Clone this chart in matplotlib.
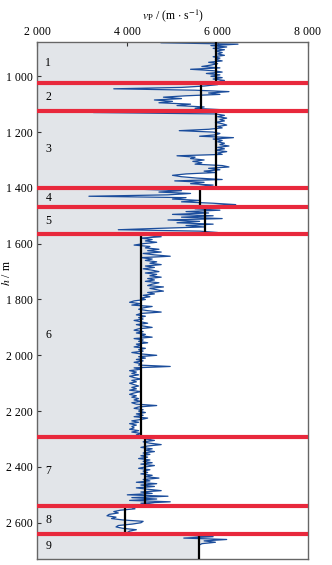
import numpy as np
import matplotlib
matplotlib.use('Agg')
import matplotlib.pyplot as plt
from matplotlib.ticker import FuncFormatter

plt.rcParams['font.family'] = ['Liberation Serif', 'DejaVu Serif']
plt.rcParams['mathtext.fontset'] = 'stix'

# layer boundaries (m) and mean P-wave velocity of each layer (m/s)
boundaries = [1024, 1123, 1400, 1470, 1564, 2292, 2539, 2640]
layer_names = ['1', '2', '3', '4', '5', '6', '7', '8', '9']
layer_mean = [5970, 5630, 5960, 5610, 5720, 4300, 4390, 3950, 5590]

# log samples every 5 m, from 880 m down to 2730 m
depth_top, depth_bottom, depth_step = 880, 2730, 5
vp_layer1 = [4750, 6450, 5850, 6200, 5900, 6150, 5950, 6100, 6000, 6150,
             5900, 6050, 5950, 6100, 5800, 6000, 5850, 5650, 6050, 5400,
             5900, 6100, 5750, 6050, 5850, 6100, 5900, 6150, 6000]
vp_layer2 = [5900, 6000, 5700, 5200, 3700, 5500, 6250, 5800, 6050, 5300,
             4800, 5200, 4600, 5000, 4700, 5400, 5100, 5700, 5500, 6100]
vp_layer3 = [5200, 3250, 5950, 6150, 6000, 6200, 6050, 6150, 5950, 6100,
             6200, 6000, 6100, 5800, 5150, 5900, 6050, 5950, 5600, 6350,
             5900, 6100, 6000, 6150, 6050, 6250, 6000, 6150, 5950, 6200,
             6000, 6100, 5100, 5500, 5400, 5700, 5450, 5650, 5500, 6100,
             6250, 5800, 6050, 5700, 5950, 5300, 5000, 5200, 5550, 6100,
             5050, 5700, 5400, 5900, 5600]
vp_layer4 = [5800, 4300, 5200, 4700, 5400, 4900, 3150, 5300, 5000, 5600,
             5200, 5900, 6400, 5700]
vp_layer5 = [5900, 5500, 6050, 5300, 5800, 5000, 5900, 5200, 6100, 4900,
             5600, 5100, 5900, 5300, 5700, 4700, 3800, 5600, 6000]
vp_layer6 = [4700, 4450, 4750, 4300, 4550, 4400, 4650, 4350, 4150, 4500,
             4400, 4700, 4450, 4750, 4350, 4600, 4950, 4300, 4550, 4400,
             4650, 4500, 4750, 4400, 4600, 4350, 4550, 4700, 4400, 4650,
             4500, 4750, 4450, 4600, 4400, 4700, 4550, 4450, 4800, 4500,
             4650, 4800, 4450, 4600, 4350, 4500, 4300, 4400, 4150, 4050,
             4300, 4100, 4550, 4350, 4250, 4450, 4750, 4300, 4200, 4400,
             4250, 4350, 4150, 4300, 4450, 4200, 4350, 4550, 4250, 4150,
             4350, 4200, 4400, 4300, 4550, 4150, 4350, 4250, 4450, 4200,
             4300, 4150, 4400, 4250, 4350, 4100, 4300, 4650, 4250, 4400,
             4200, 4350, 4150, 4300, 4250, 4950, 4150, 4300, 4050, 4200,
             4100, 4250, 4050, 4150, 4300, 4100, 4200, 4050, 4150, 4250,
             4100, 4200, 4050, 4300, 4150, 4050, 4200, 4100, 4250, 4150,
             4300, 4100, 4200, 4650, 4250, 4150, 4350, 4250, 4400, 4200,
             4350, 4150, 4450, 4300, 4100, 4250, 4050, 4200, 4100, 4150,
             4050, 4250, 4100, 4300, 4200, 4350]
vp_layer7 = [4750, 4400, 4600, 4350, 4500, 4750, 4450, 4300, 4550, 4400,
             4600, 4350, 4500, 4300, 4450, 4250, 4500, 4350, 4550, 4300,
             4600, 4400, 4250, 4500, 4350, 4450, 4300, 4550, 4400, 4700,
             4350, 4500, 4200, 4650, 4300, 4600, 4200, 4450, 4750, 4300,
             4550, 4000, 4900, 4100, 4650, 4050, 4950, 4300, 4600]
vp_layer8 = [4000, 4100, 4170, 3850, 3700, 3800, 3600, 3550, 3750, 3650,
             3900, 4350, 4300, 4100, 3800, 3750, 3900, 4200, 4050, 4000]
vp_layer9 = [5500, 5300, 5900, 5250, 6200, 5700, 5950, 5650, 5590, 5590,
             5590, 5590, 5590, 5590, 5590, 5590, 5590, 5590, 5590]

vp = np.array(vp_layer1 + vp_layer2 + vp_layer3 + vp_layer4 + vp_layer5
              + vp_layer6 + vp_layer7 + vp_layer8 + vp_layer9, dtype=float)
depth = np.arange(depth_top, depth_bottom + 1, depth_step)

fig = plt.figure(figsize=(3.32, 5.65), dpi=100)
ax = fig.add_axes([0.1114, 0.0106, 0.8163, 0.9142])

y_top, y_bottom = 879, 2730
x_min, x_max = 2000, 8000

# grey area between the left edge and the log
ax.fill_betweenx(depth, x_min, vp, color='#e2e5e9', lw=0, zorder=1)
ax.plot(vp, depth, color='#1b4d9c', lw=0.9, zorder=2)

# mean velocity of each layer
edges = [y_top] + boundaries + [y_bottom]
for i, v in enumerate(layer_mean):
    ax.plot([v, v], [edges[i], edges[i + 1]], color='black', lw=1.6, zorder=3)
    ax.text(2250, (edges[i] + edges[i + 1]) / 2, layer_names[i],
            fontsize=8.5, ha='center', va='center', zorder=5)

# layer boundaries
for b in boundaries:
    ax.axhline(b, color='#e8283c', lw=3, zorder=4)

ax.set_xlim(x_min, x_max)
ax.set_ylim(y_bottom, y_top)
ax.set_xticks([2000, 4000, 6000, 8000])
ax.set_yticks(np.arange(1000, 2601, 200))
fmt = FuncFormatter(lambda v, p: f'{v:,.0f}'.replace(',', ' '))
ax.xaxis.set_major_formatter(fmt)
ax.yaxis.set_major_formatter(fmt)
ax.xaxis.tick_top()
ax.tick_params(axis='both', direction='in', length=3, width=0.8,
               labelsize=8.5, pad=3, color='#333333')

for s in ax.spines.values():
    s.set_color('#666666')
    s.set_linewidth(1.0)

fig.text(0.52, 0.972, r'$v_\mathrm{P}$ / (m $\cdot$ s$^{-1}$)', fontsize=8.5,
         ha='center', va='center')
fig.text(1 / 332, 0.517, r'$h$ / m', fontsize=8.5, rotation=90,
         ha='left', va='center')

fig.savefig('out.png', dpi=100)
plt.close(fig)
